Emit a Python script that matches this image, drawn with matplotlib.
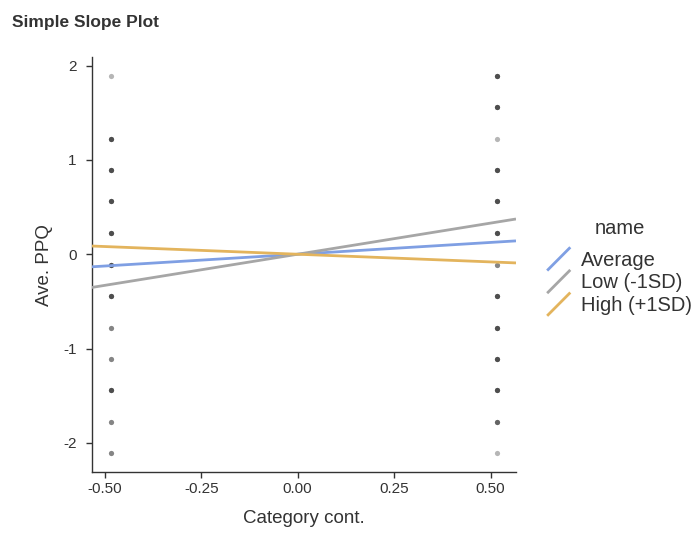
import matplotlib
matplotlib.use("Agg")
import matplotlib.pyplot as plt
from matplotlib.legend_handler import HandlerLine2D
from matplotlib.lines import Line2D
import numpy as np

plt.rcParams["font.family"] = ["Liberation Sans", "DejaVu Sans"]

# raw points: x = category (centered code), y = PPQ, n = how many overlap there
left_y = [1.89, 1.22, 0.89, 0.56, 0.22, -0.11, -0.44, -0.78, -1.11, -1.44, -1.78, -2.11]
left_n = [1, 4, 4, 4, 4, 4, 4, 2, 2, 4, 2, 2]
right_y = [1.89, 1.56, 1.22, 0.89, 0.56, 0.22, -0.11, -0.44, -0.78, -1.11, -1.44, -1.78, -2.11]
right_n = [4, 4, 1, 4, 4, 4, 2, 4, 4, 4, 4, 3, 1]
cat_x = [-0.484, 0.516]

# simple slopes
names = ["Average", "Low (-1SD)", "High (+1SD)"]
slopes = [0.25, 0.66, -0.163]
intercepts = [0.0, 0.0, 0.0]
colors = ["#7f9fe3", "#a6a6a6", "#e3b45d"]

fig = plt.figure(figsize=(6.97, 5.34), dpi=100)
ax = fig.add_axes([0.1316, 0.116, 0.6087, 0.777])

# overlapping points -> darker, like alpha stacking
for xv, ys, ns in [(cat_x[0], left_y, left_n), (cat_x[1], right_y, right_n)]:
    for yv, n in zip(ys, ns):
        for _ in range(n):
            ax.scatter(xv, yv, s=14, color="#222222", alpha=0.33, linewidths=0, zorder=2)

for nm, s, b, c in zip(names, slopes, intercepts, colors):
    ax.axline((0, b), slope=s, color=c, lw=2.0, label=nm, zorder=3,
              solid_capstyle="butt")

ax.set_xlim(-0.534, 0.566)
ax.set_ylim(-2.31, 2.09)
ax.set_xticks([-0.5, -0.25, 0, 0.25, 0.5])
ax.set_xticklabels(["-0.50", "-0.25", "0.00", "0.25", "0.50"])
ax.set_yticks([-2, -1, 0, 1, 2])
ax.set_yticklabels(["-2", "-1", "0", "1", "2"])

for sp in ["top", "right"]:
    ax.spines[sp].set_visible(False)
for sp in ["left", "bottom"]:
    ax.spines[sp].set_color("#333333")
    ax.spines[sp].set_linewidth(1.0)
ax.tick_params(axis="both", colors="#333333", labelsize=11, length=4, width=1.0)
ax.tick_params(axis="y", pad=7)

ax.set_xlabel("Category cont.", fontsize=13.5, color="#333333", labelpad=10)
ax.set_ylabel("Ave. PPQ", fontsize=13.5, color="#333333", labelpad=7)

fig.text(0.017, 0.958, "Simple Slope Plot", fontsize=12.5, fontweight="bold",
         color="#333333", va="center", ha="left")


class DiagHandler(HandlerLine2D):
    def create_artists(self, legend, orig_handle, xdescent, ydescent,
                       width, height, fontsize, trans):
        ln = Line2D([xdescent, xdescent + width],
                    [ydescent - 0.35 * height, ydescent + 1.3 * height],
                    color=orig_handle.get_color(), lw=orig_handle.get_linewidth(),
                    solid_capstyle="butt")
        ln.set_transform(trans)
        return [ln]


handles = [Line2D([], [], color=c, lw=2.0) for c in colors]
leg = fig.legend(handles, names, title="name", loc="center left",
                 bbox_to_anchor=(0.785, 0.50), frameon=False, fontsize=14.5,
                 title_fontsize=14.5, handler_map={Line2D: DiagHandler()},
                 handlelength=1.15, handletextpad=0.55, labelspacing=0.18,
                 borderpad=0, borderaxespad=0)
leg._legend_box.sep = 9  # extra gap under the legend title
for t in leg.get_texts():
    t.set_color("#333333")
leg.get_title().set_color("#333333")

fig.savefig("out.png", dpi=100)
